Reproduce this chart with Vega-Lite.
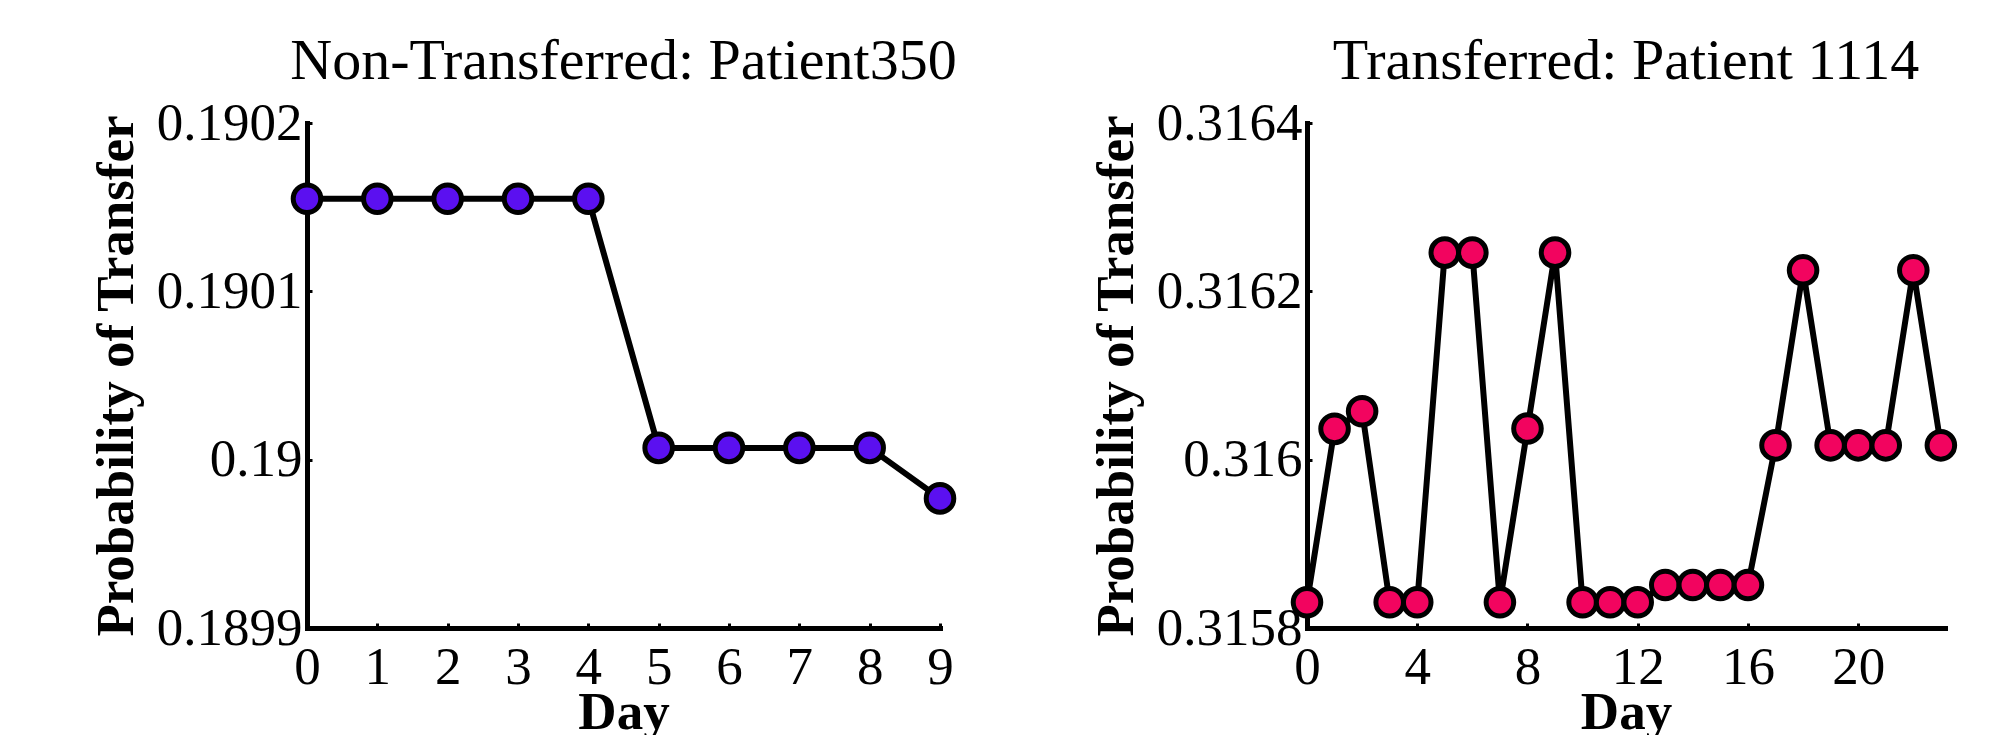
{
  "$schema": "https://vega.github.io/schema/vega-lite/v6.json",
  "background": "white",
  "padding": {"left": 90, "top": 33, "right": 0, "bottom": 0},
  "spacing": 126,
  "datasets": {
    "nontransferred": [
      {"day": 0, "prob": 0.190155},
      {"day": 1, "prob": 0.190155},
      {"day": 2, "prob": 0.190155},
      {"day": 3, "prob": 0.190155},
      {"day": 4, "prob": 0.190155},
      {"day": 5, "prob": 0.190007},
      {"day": 6, "prob": 0.190007},
      {"day": 7, "prob": 0.190007},
      {"day": 8, "prob": 0.190007},
      {"day": 9, "prob": 0.189977}
    ],
    "transferred": [
      {"day": 0, "prob": 0.3158305},
      {"day": 1, "prob": 0.3160366},
      {"day": 2, "prob": 0.3160576},
      {"day": 3, "prob": 0.3158305},
      {"day": 4, "prob": 0.3158305},
      {"day": 5, "prob": 0.316246},
      {"day": 6, "prob": 0.316246},
      {"day": 7, "prob": 0.3158305},
      {"day": 8, "prob": 0.316037},
      {"day": 9, "prob": 0.316246},
      {"day": 10, "prob": 0.3158305},
      {"day": 11, "prob": 0.3158305},
      {"day": 12, "prob": 0.3158305},
      {"day": 13, "prob": 0.315851},
      {"day": 14, "prob": 0.315851},
      {"day": 15, "prob": 0.315851},
      {"day": 16, "prob": 0.315851},
      {"day": 17, "prob": 0.316017},
      {"day": 18, "prob": 0.316225},
      {"day": 19, "prob": 0.316017},
      {"day": 20, "prob": 0.316017},
      {"day": 21, "prob": 0.316017},
      {"day": 22, "prob": 0.316225},
      {"day": 23, "prob": 0.316017}
    ]
  },
  "hconcat": [
    {
      "width": 633,
      "height": 505,
      "title": {"text": "Non-Transferred: Patient350"},
      "data": {"name": "nontransferred"},
      "encoding": {
        "x": {
          "field": "day", "type": "quantitative", "title": "Day",
          "scale": {"domain": [0, 9], "nice": false, "zero": false},
          "axis": {"values": [0, 1, 2, 3, 4, 5, 6, 7, 8, 9], "format": "d"}
        },
        "y": {
          "field": "prob", "type": "quantitative", "title": "Probability of Transfer",
          "scale": {"domain": [0.1899, 0.1902], "nice": false, "zero": false},
          "axis": {"values": [0.1899, 0.19, 0.1901, 0.1902], "format": ".4~f"}
        }
      },
      "layer": [
        {"mark": {"type": "line", "color": "black", "strokeWidth": 6}},
        {"mark": {"type": "point", "shape": "circle", "filled": true, "fill": "#5B10F0", "stroke": "black", "strokeWidth": 5, "size": 760, "opacity": 1}}
      ]
    },
    {
      "width": 638,
      "height": 505,
      "title": {"text": "Transferred: Patient 1114"},
      "data": {"name": "transferred"},
      "encoding": {
        "x": {
          "field": "day", "type": "quantitative", "title": "Day",
          "scale": {"domain": [0, 23.15], "nice": false, "zero": false},
          "axis": {"values": [0, 4, 8, 12, 16, 20], "format": "d"}
        },
        "y": {
          "field": "prob", "type": "quantitative", "title": "Probability of Transfer",
          "scale": {"domain": [0.3158, 0.3164], "nice": false, "zero": false},
          "axis": {"values": [0.3158, 0.316, 0.3162, 0.3164], "format": ".4~f"}
        }
      },
      "layer": [
        {"mark": {"type": "line", "color": "black", "strokeWidth": 6}},
        {"mark": {"type": "point", "shape": "circle", "filled": true, "fill": "#F2045F", "stroke": "black", "strokeWidth": 5, "size": 760, "opacity": 1}}
      ]
    }
  ],
  "config": {
    "view": {"stroke": null},
    "font": "Liberation Serif",
    "title": {"font": "Liberation Serif", "fontSize": 58, "fontWeight": "normal", "color": "black", "baseline": "alphabetic", "offset": 6, "anchor": "middle"},
    "axis": {
      "grid": false,
      "domainColor": "black", "domainWidth": 5, "domainCap": "square",
      "tickColor": "black", "tickWidth": 3, "tickSize": -5,
      "labelFont": "Liberation Serif", "labelFontSize": 53, "labelColor": "black",
      "labelFlush": false, "labelOverlap": false,
      "titleFont": "Liberation Serif", "titleFontSize": 53, "titleFontWeight": "bold", "titleColor": "black"
    },
    "axisX": {"labelPadding": 18, "titlePadding": -8},
    "axisY": {"labelPadding": 10, "titlePadding": 13}
  }
}
